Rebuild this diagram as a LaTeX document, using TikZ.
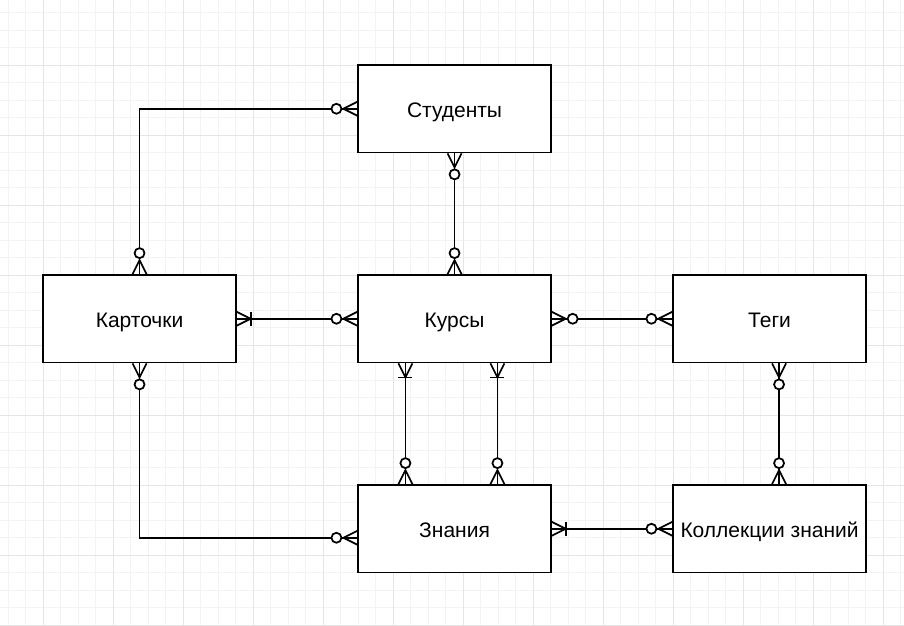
\documentclass[tikz,border=0pt]{standalone}
\usepackage{fontspec}
\setmainfont{Liberation Sans}
\definecolor{gminor}{HTML}{F3F3F3}
\definecolor{gmajor}{HTML}{E5E5E5}
\definecolor{ink}{HTML}{000000}
\begin{document}
\begin{tikzpicture}[x=1pt,y=-1pt,
  entity/.style={draw=ink, line width=1.75pt, fill=white, minimum width=192.5pt,
    minimum height=87.5pt, inner sep=0pt, text height=18pt, text depth=0pt,
    font=\fontsize{21}{25}\selectfont},
  link/.style={draw=ink, line width=1.75pt},
  zm/.pic={\draw[draw=ink, line width=1.75pt] (0,7)--(14,0)--(0,-7);
           \draw[draw=ink, line width=1.75pt, fill=white] (21,0) circle[radius=5];},
  om/.pic={\draw[draw=ink, line width=1.75pt] (0,7)--(14,0)--(0,-7);
           \draw[draw=ink, line width=1.75pt] (14,7)--(14,-7);}
]
\useasboundingbox (0,0) rectangle (904,625);
\fill[white] (0,0) rectangle (904,625);
% grid
\foreach \i in {0,...,51} {\draw[gminor, line width=1pt] ({8.3+17.5*\i},0) -- ({8.3+17.5*\i},625);}
\foreach \i in {0,...,35} {\draw[gminor, line width=1pt] (0,{12.5+17.5*\i}) -- (904,{12.5+17.5*\i});}
\foreach \i in {0,...,12} {\draw[gmajor, line width=1pt] ({43.3+70*\i},0) -- ({43.3+70*\i},625);}
\foreach \i in {0,...,9} {\draw[gmajor, line width=1pt] (0,{-5+70*\i}) -- (904,{-5+70*\i});}

% entities
\node[entity] (stud) at (454.55,108.75) {Студенты};
\node[entity] (kart) at (139.55,318.75) {Карточки};
\node[entity] (kurs) at (454.55,318.75) {Курсы};
\node[entity] (tegi) at (769.55,318.75) {Теги};
\node[entity] (zn)   at (454.55,528.75) {Знания};
\node[entity] (koll) at (769.55,528.75) {Коллекции знаний};

% connectors
\draw[link] (kart.north) |- (stud.west);
\draw[link] (stud.south) -- (kurs.north);
\draw[link] (kart.east) -- (kurs.west);
\draw[link] (kurs.east) -- (tegi.west);
\draw[link] ([xshift=48pt]kurs.south west) -- ([xshift=48pt]zn.north west);
\draw[link] ([xshift=140pt]kurs.south west) -- ([xshift=140pt]zn.north west);
\draw[link] (kart.south) |- ([yshift=-9pt]zn.west);
\draw[link] (zn.east) -- (koll.west);
\draw[link] ([xshift=9.5pt]tegi.south) -- ([xshift=9.5pt]koll.north);

% end markers
\pic[rotate=90]  at (kart.north) {zm};
\pic[rotate=180] at (stud.west) {zm};
\pic[rotate=-90] at (stud.south) {zm};
\pic[rotate=90]  at (kurs.north) {zm};
\pic             at (kart.east) {om};
\pic[rotate=180] at (kurs.west) {zm};
\pic             at (kurs.east) {zm};
\pic[rotate=180] at (tegi.west) {zm};
\pic[rotate=-90] at ([xshift=48pt]kurs.south west) {om};
\pic[rotate=90]  at ([xshift=48pt]zn.north west) {zm};
\pic[rotate=-90] at ([xshift=140pt]kurs.south west) {om};
\pic[rotate=90]  at ([xshift=140pt]zn.north west) {zm};
\pic[rotate=-90] at (kart.south) {zm};
\pic[rotate=180] at ([yshift=-9pt]zn.west) {zm};
\pic             at (zn.east) {om};
\pic[rotate=180] at (koll.west) {zm};
\pic[rotate=-90] at ([xshift=9.5pt]tegi.south) {zm};
\pic[rotate=90]  at ([xshift=9.5pt]koll.north) {zm};
\end{tikzpicture}
\end{document}
